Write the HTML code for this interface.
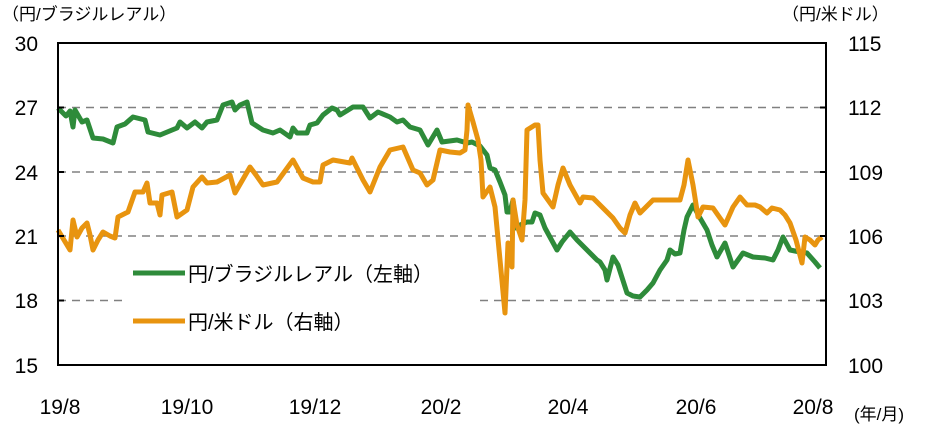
<!DOCTYPE html>
<html><head><meta charset="utf-8"><style>
body{margin:0;background:#fff;}
svg text{font-family:"Liberation Sans","Noto Sans CJK JP",sans-serif;fill:#000;}
</style></head><body>
<svg width="929" height="433" viewBox="0 0 929 433" xmlns="http://www.w3.org/2000/svg">
<g stroke="#808080" stroke-width="1.5" stroke-dasharray="8,6">
<line x1="58" y1="107.5" x2="826" y2="107.5"/>
<line x1="58" y1="172" x2="826" y2="172"/>
<line x1="58" y1="236" x2="826" y2="236"/>
<line x1="480" y1="300.5" x2="826" y2="300.5"/>
<line x1="58" y1="300.5" x2="128" y2="300.5"/>
</g>
<polyline fill="none" stroke="#2e8b3a" stroke-width="5" stroke-linejoin="round" points="58,108 66,116 70,111 73,127 75,110 82,122 87,120 93,138 103,139 113,143 117,127 125,124 133,117 145,120 148,132 160,135 177,128 180,122 187,128 195,122 202,128 207,122 217,120 223,105 232,102 235,110 240,105 247,102 252,123 263,130 273,133 280,130 290,137 293,128 297,133 307,133 310,125 317,123 323,115 332,108 337,110 340,115 353,107 363,107 370,118 378,112 390,117 397,122 403,120 410,127 420,130 428,145 437,130 442,142 457,140 467,143 472,142 480,146 487,155 490,168 495,170 500,182 505,195 507,212 510,212 513,200 516,228 520,225 527,222 532,222 535,213 540,215 545,228 557,250 562,242 570,232 577,240 585,248 597,260 600,262 605,270 607,280 613,257 618,265 627,293 633,296 640,297 647,290 653,283 660,270 667,260 670,250 675,254 680,253 684,230 687,217 693,205 700,218 707,230 712,245 717,257 721,250 725,243 733,267 738,260 743,253 753,257 765,258 773,260 778,250 783,237 790,250 800,252 807,253 815,262 820,268"/>
<polyline fill="none" stroke="#e8940f" stroke-width="5" stroke-linejoin="round" points="58,230 64,240 70,250 73,220 77,237 82,228 87,223 90,235 93,250 98,240 103,232 110,236 115,238 118,217 128,212 135,192 143,192 147,183 150,203 157,203 160,215 162,195 172,192 177,217 187,210 193,187 202,177 207,183 217,182 230,175 235,193 250,167 256,175 263,185 277,182 293,160 303,178 313,182 320,182 323,165 333,160 350,163 352,158 363,180 370,192 380,167 390,150 403,147 413,170 420,173 427,185 433,180 440,150 450,152 460,153 465,150 467,130 468,105 473,122 478,140 481,160 483,197 490,187 495,207 500,260 505,313 508,243 512,267 513,200 517,225 522,240 525,200 527,130 535,125 538,125 540,160 543,193 553,207 558,185 563,168 570,185 580,203 583,197 593,198 600,205 605,210 613,218 620,228 625,233 630,215 635,203 640,213 653,200 663,200 673,200 680,200 684,185 688,160 693,185 698,217 703,207 713,208 720,218 725,225 733,207 740,197 747,205 755,205 760,207 767,213 772,208 780,210 785,215 790,223 796,240 802,263 805,237 810,240 815,245 818,240 822,237"/>
<rect x="58" y="43" width="768" height="322" fill="none" stroke="#000" stroke-width="2"/>
<g stroke="#000" stroke-width="2">
<line x1="58" y1="107.5" x2="64" y2="107.5"/><line x1="58" y1="172" x2="64" y2="172"/><line x1="58" y1="236" x2="64" y2="236"/><line x1="58" y1="300.5" x2="64" y2="300.5"/>
<line x1="820" y1="107.5" x2="826" y2="107.5"/><line x1="820" y1="172" x2="826" y2="172"/><line x1="820" y1="236" x2="826" y2="236"/><line x1="820" y1="300.5" x2="826" y2="300.5"/>
</g>
<g font-size="21" text-anchor="end">
<text x="38" y="51">30</text><text x="38" y="115">27</text><text x="38" y="180">24</text><text x="38" y="244">21</text><text x="38" y="308">18</text><text x="38" y="373">15</text>
</g>
<g font-size="21" text-anchor="start">
<text x="848" y="51">115</text><text x="848" y="115">112</text><text x="848" y="180">109</text><text x="848" y="244">106</text><text x="848" y="308">103</text><text x="848" y="373">100</text>
</g>
<g font-size="21" text-anchor="middle">
<text x="60" y="414">19/8</text><text x="187" y="414">19/10</text><text x="315" y="414">19/12</text><text x="441" y="414">20/2</text><text x="568" y="414">20/4</text><text x="696" y="414">20/6</text><text x="813" y="414">20/8</text>
</g>
<text x="2" y="20" font-size="17">（円/ブラジルレアル）</text>
<text x="782" y="20" font-size="17">（円/米ドル）</text>
<text x="854" y="420" font-size="17">(年/月)</text>
<line x1="133" y1="273" x2="185" y2="273" stroke="#2e8b3a" stroke-width="5"/>
<text x="188" y="281" font-size="20">円/ブラジルレアル（左軸）</text>
<line x1="133" y1="321" x2="185" y2="321" stroke="#e8940f" stroke-width="5"/>
<text x="188" y="329" font-size="20">円/米ドル（右軸）</text>
</svg>
</body></html>
